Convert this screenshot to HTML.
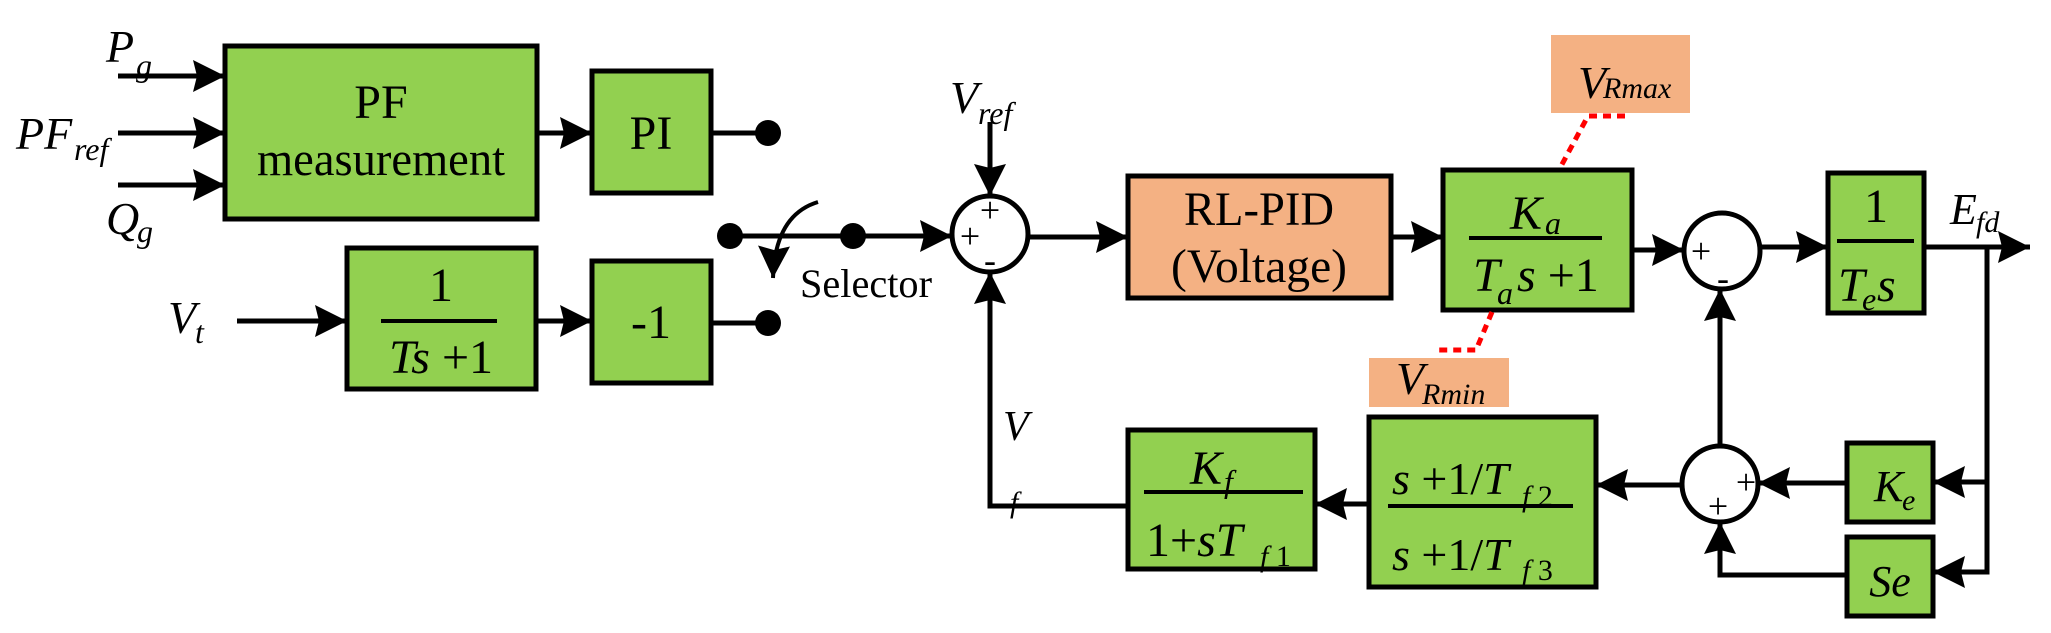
<!DOCTYPE html>
<html><head><meta charset="utf-8"><style>
html,body{margin:0;padding:0;background:#fff;}
svg{display:block;font-family:"Liberation Serif","Times New Roman","DejaVu Serif",serif;}
text{font-family:"Liberation Serif","Times New Roman","DejaVu Serif",serif;fill:#000;}
.i{font-style:italic;}
</style></head><body>
<svg width="2051" height="633" viewBox="0 0 2051 633" xmlns="http://www.w3.org/2000/svg" font-family="Liberation Serif, serif">
<defs>
<marker id="a" markerUnits="userSpaceOnUse" markerWidth="32" markerHeight="32" refX="32" refY="16" orient="auto">
<path d="M0,0 L32,16 L0,32 L4,16 z" fill="#000"/>
</marker>
</defs>
<g stroke="#000" stroke-width="5">
<rect x="225" y="46" width="312" height="173" fill="#92D050"/>
<rect x="592" y="71" width="119" height="122" fill="#92D050"/>
<rect x="347" y="248" width="189" height="141" fill="#92D050"/>
<rect x="592" y="261" width="119" height="122" fill="#92D050"/>
<rect x="1128" y="176" width="263" height="122" fill="#F4B183"/>
<rect x="1443" y="170" width="189" height="140" fill="#92D050"/>
<rect x="1828" y="173" width="96" height="140" fill="#92D050"/>
<rect x="1847" y="443" width="86" height="79" fill="#92D050"/>
<rect x="1847" y="537" width="86" height="79" fill="#92D050"/>
<rect x="1369" y="417" width="227" height="170" fill="#92D050"/>
<rect x="1128" y="430" width="187" height="139" fill="#92D050"/>
<circle cx="990" cy="234" r="38" fill="#fff"/>
<circle cx="1722" cy="251" r="38" fill="#fff"/>
<circle cx="1720" cy="484" r="38" fill="#fff"/>
</g>
<rect x="1551" y="35" width="139" height="78" fill="#F4B183"/>
<rect x="1369" y="358" width="140" height="49" fill="#F4B183"/>
<g stroke="#000" stroke-width="5" fill="none">
<line x1="118" y1="76" x2="225" y2="76" marker-end="url(#a)"/>
<line x1="118" y1="133" x2="225" y2="133" marker-end="url(#a)"/>
<line x1="118" y1="185" x2="225" y2="185" marker-end="url(#a)"/>
<line x1="537" y1="133" x2="592" y2="133" marker-end="url(#a)"/>
<line x1="711" y1="133" x2="768" y2="133"/>
<line x1="237" y1="321" x2="347" y2="321" marker-end="url(#a)"/>
<line x1="536" y1="321" x2="592" y2="321" marker-end="url(#a)"/>
<line x1="711" y1="323" x2="768" y2="323"/>
<line x1="730" y1="236" x2="952" y2="236" marker-end="url(#a)"/>
<line x1="990" y1="122" x2="990" y2="196" marker-end="url(#a)"/>
<polyline points="1128,506 990,506 990,272" marker-end="url(#a)"/>
<line x1="1028" y1="237" x2="1128" y2="237" marker-end="url(#a)"/>
<line x1="1391" y1="237" x2="1443" y2="237" marker-end="url(#a)"/>
<line x1="1632" y1="250" x2="1684" y2="250" marker-end="url(#a)"/>
<line x1="1760" y1="247" x2="1828" y2="247" marker-end="url(#a)"/>
<line x1="1924" y1="247" x2="2030" y2="247" marker-end="url(#a)"/>
<polyline points="1987,247 1987,572 1933,572" marker-end="url(#a)"/>
<line x1="1987" y1="482" x2="1933" y2="482" marker-end="url(#a)"/>
<line x1="1847" y1="483" x2="1758" y2="483" marker-end="url(#a)"/>
<polyline points="1847,575 1720,575 1720,522" marker-end="url(#a)"/>
<line x1="1720" y1="446" x2="1720" y2="289" marker-end="url(#a)"/>
<line x1="1682" y1="485" x2="1596" y2="485" marker-end="url(#a)"/>
<line x1="1369" y1="504" x2="1315" y2="504" marker-end="url(#a)"/>
<path d="M818,202 Q775,215 773,278" marker-end="url(#a)" stroke-width="4"/>
</g>
<g fill="#000">
<ellipse cx="768" cy="133" rx="13" ry="13"/>
<ellipse cx="768" cy="323" rx="13" ry="13"/>
<ellipse cx="730" cy="236" rx="13" ry="13"/>
<ellipse cx="853" cy="236" rx="13" ry="13"/>
</g>
<g stroke="#f00" stroke-width="5" fill="none" stroke-dasharray="8,6">
<polyline points="1625,116 1588,116 1560,168"/>
<polyline points="1492,312 1476,350 1438,350"/>
</g>
<g stroke="#000" stroke-width="4">
<line x1="381" y1="321" x2="497" y2="321"/>
<line x1="1469" y1="238" x2="1602" y2="238"/>
<line x1="1837" y1="241" x2="1914" y2="241"/>
<line x1="1388" y1="506" x2="1573" y2="506"/>
<line x1="1144" y1="492" x2="1303" y2="492"/>
</g>
<!-- labels -->
<text x="106" y="62" font-size="46" class="i">P</text><text x="136" y="76" font-size="32" class="i">g</text>
<text x="16" y="149" font-size="46" class="i">PF</text><text x="74" y="160" font-size="32" class="i">ref</text>
<text x="106" y="234" font-size="46" class="i">Q</text><text x="137" y="242" font-size="32" class="i">g</text>
<text x="168" y="333" font-size="46" class="i">V</text><text x="195" y="343" font-size="32" class="i">t</text>
<text x="381" y="118" font-size="48" text-anchor="middle">PF</text>
<text x="381" y="175" font-size="48" text-anchor="middle" textLength="248" lengthAdjust="spacingAndGlyphs">measurement</text>
<text x="651" y="149" font-size="48" text-anchor="middle">PI</text>
<text x="441" y="301" font-size="48" text-anchor="middle">1</text>
<text x="441" y="373" font-size="48" text-anchor="middle"><tspan class="i">Ts</tspan> +1</text>
<text x="651" y="338" font-size="48" text-anchor="middle">-1</text>
<text x="800" y="297" font-size="40" textLength="132" lengthAdjust="spacingAndGlyphs">Selector</text>
<text x="950" y="113" font-size="46" class="i">V</text><text x="978" y="124" font-size="32" class="i">ref</text>
<text x="990" y="222" font-size="36" text-anchor="middle">+</text>
<text x="970" y="248" font-size="36" text-anchor="middle">+</text>
<text x="990" y="272" font-size="36" text-anchor="middle">-</text>
<text x="1003" y="440" font-size="42" class="i">V</text>
<text x="1010" y="512" font-size="30" class="i">f</text>
<text x="1259" y="225" font-size="48" text-anchor="middle" textLength="150" lengthAdjust="spacingAndGlyphs">RL-PID</text>
<text x="1259" y="282" font-size="48" text-anchor="middle" textLength="176" lengthAdjust="spacingAndGlyphs">(Voltage)</text>
<text x="1510" y="229" font-size="48" class="i">K</text><text x="1545" y="234" font-size="32" class="i">a</text>
<text x="1473" y="291" font-size="48" class="i">T</text><text x="1497" y="304" font-size="32" class="i">a</text><text x="1517" y="291" font-size="48"><tspan class="i">s</tspan> +1</text>
<text x="1578" y="98" font-size="46" class="i">V</text><text x="1603" y="98" font-size="30" class="i">Rmax</text>
<text x="1396" y="394" font-size="46" class="i">V</text><text x="1422" y="404" font-size="30" class="i">Rmin</text>
<text x="1701" y="263" font-size="36" text-anchor="middle">+</text>
<text x="1723" y="290" font-size="36" text-anchor="middle">-</text>
<text x="1876" y="222" font-size="48" text-anchor="middle">1</text>
<text x="1838" y="301" font-size="48" class="i">T</text><text x="1862" y="310" font-size="32" class="i">e</text><text x="1877" y="301" font-size="48" class="i">s</text>
<text x="1950" y="224" font-size="44" class="i">E</text><text x="1976" y="232" font-size="30" class="i">fd</text>
<text x="1874" y="501" font-size="44" class="i">K</text><text x="1902" y="510" font-size="30" class="i">e</text>
<text x="1890" y="596" font-size="44" class="i" text-anchor="middle">Se</text>
<text x="1746" y="494" font-size="36" text-anchor="middle">+</text>
<text x="1718" y="518" font-size="36" text-anchor="middle">+</text>
<text x="1392" y="494" font-size="46"><tspan class="i">s</tspan> +1/<tspan class="i">T</tspan></text><text x="1522" y="506" font-size="30"><tspan class="i">f</tspan> 2</text>
<text x="1392" y="570" font-size="46"><tspan class="i">s</tspan> +1/<tspan class="i">T</tspan></text><text x="1522" y="580" font-size="30"><tspan class="i">f</tspan> 3</text>
<text x="1190" y="484" font-size="48" class="i">K</text><text x="1224" y="492" font-size="32" class="i">f</text>
<text x="1146" y="556" font-size="48">1+<tspan class="i">sT</tspan></text><text x="1260" y="566" font-size="30"><tspan class="i">f</tspan> 1</text>
</svg>
</body></html>
